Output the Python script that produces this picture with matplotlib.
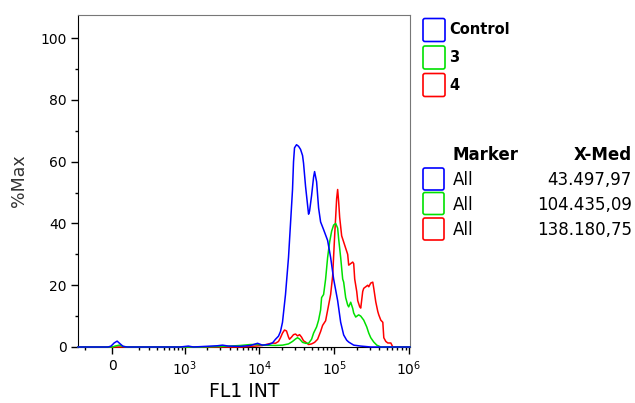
import matplotlib
matplotlib.use('Agg')
import matplotlib.pyplot as plt
from matplotlib.patches import FancyBboxPatch

plt.rcParams['font.family'] = ['DejaVu Sans']

# FL1 INT values, %Max per point
control_x = [-270, -27, -7, 13, 33, 54, 74, 103, 860, 1110, 1300, 2740, 3200, 3850, 5590, 7600, 9440,
             10970, 13200, 14940, 16390, 17980, 19120, 20340, 22310, 24480, 26040, 27700, 28570, 29460,
             31330, 33330, 35450, 37720, 38890, 41370, 44000, 45380, 46810, 49780, 52970, 54630, 58110,
             61800, 65730, 72110, 81600, 89520, 98200, 111100, 121900, 133700, 146700, 156100, 182100,
             226100, 307800, 1.03e6]
control_y = [0, 0, 0.3, 1.3, 1.9, 1.0, 0.2, 0, 0, 0.3, 0, 0.4, 0.6, 0.3, 0.2, 0.5, 1.2,
             0.6, 0.8, 1.3, 2.5, 3.5, 5, 8, 17, 29, 40, 51, 60, 64.5,
             65.5, 65, 64, 62, 59.5, 52, 46, 43, 44, 49, 55, 56.8, 53.5,
             45, 40.5, 38, 34.5, 29, 22, 15, 8, 3.9, 2.2, 1.6, 0.6,
             0.3, 0, 0]

s3_x = [-270, 0, 20, 47, 74, 103, 1620, 4100, 5590, 7600, 9440, 12030, 16390, 20340, 24480, 27700,
        30380, 32320, 34380, 37720, 41370, 45380, 49780, 52970, 58110, 61800, 65730, 67790, 72110,
        76710, 81600, 86800, 92330, 98200, 104500, 111100, 114600, 121900, 129700, 133700, 142200,
        151300, 156100, 166000, 176600, 182100, 193700, 206100, 212500, 226100, 248000, 272000,
        289400, 307800, 337700, 370500, 419300, 1.03e6]
s3_y = [0, 0, 0.3, 0.6, 0.2, 0, 0, 0.3, 0.5, 0.8, 0.8, 0.6, 0.5, 0.6, 1, 1.8,
        2.6, 3, 2.6, 1.5, 1.2, 1.2, 2.5, 4.5, 6.5, 8.7, 12, 16, 17,
        22, 29, 34, 37.5, 39.5, 40, 38.5, 35, 29, 22, 21, 16,
        13.6, 13, 14.5, 12.5, 11, 9.7, 10.2, 10.4, 10, 8.7, 6.5,
        4.5, 3, 1.6, 0.6, 0, 0]

s4_x = [-270, 5590, 8840, 10970, 13200, 14940, 16390, 17980, 19120, 20340, 21630, 23010, 24480,
        25250, 26850, 28570, 30380, 32320, 34380, 36560, 38890, 41370, 45380, 49780, 54630, 59930,
        65730, 69920, 76710, 84160, 89520, 95220, 101300, 104500, 107700, 111100, 114600, 118200,
        125700, 133700, 142200, 151300, 156100, 166000, 176600, 182100, 187800, 199800, 206100,
        219200, 226100, 240400, 248000, 263800, 280500, 289400, 307800, 327400, 337700, 359200,
        382100, 394100, 419300, 446000, 459900, 489200, 520300, 570900, 607100, 1.03e6]
s4_y = [0, 0, 0.3, 0.5, 1, 1.3, 1.2, 1.8, 3, 4.5, 5.5, 5.2, 3.2,
        2.5, 3.2, 4, 4.2, 3.6, 4, 3.2, 2, 1.6, 0.8, 1, 1.5, 2.5,
        5, 7, 8.5, 13.6, 17, 23, 36, 42, 48, 51, 47, 42,
        36, 34, 32, 30, 26.5, 27, 27.5, 27, 22, 18, 15,
        13, 12.6, 18, 19, 19.5, 20, 19.5, 20.7, 21, 19, 14.6,
        11.5, 10.4, 8.7, 8, 3, 1.8, 1.3, 1.3, 0, 0]

names = ['Control', '3', '4']
colors = ['#0000ff', '#00e000', '#ff0000']
medians = ['43.497,97', '104.435,09', '138.180,75']

fig = plt.figure(figsize=(6.35, 4.03), dpi=100)
ax = fig.add_axes([78 / 635, 1 - 347 / 403, (410 - 78) / 635, (347 - 15) / 403])
ax.set_xscale('asinh', linear_width=215)

# red, green, then blue on top
ax.plot(s4_x, s4_y, color=colors[2], lw=1.1, zorder=3, clip_on=False)
ax.plot(s3_x, s3_y, color=colors[1], lw=1.1, zorder=4, clip_on=False)
ax.plot(control_x, control_y, color=colors[0], lw=1.1, zorder=5, clip_on=False)

ax.set_xlim(-270, 1.03e6)
ax.set_ylim(0, 107.5)

ax.set_xticks([0, 1e3, 1e4, 1e5, 1e6])
ax.set_xticklabels(['0', r'$\mathregular{10^{3}}$', r'$\mathregular{10^{4}}$',
                    r'$\mathregular{10^{5}}$', r'$\mathregular{10^{6}}$'])
minor = [-200]
for dec in [1e2, 1e3, 1e4, 1e5]:
    minor += [m * dec for m in range(2, 10)]
ax.set_xticks(minor, minor=True)
ax.set_yticks([0, 20, 40, 60, 80, 100])
ax.set_yticks([10, 30, 50, 70, 90], minor=True)

ax.tick_params(axis='both', which='major', direction='out', length=5, width=1, labelsize=10, pad=3)
ax.tick_params(axis='both', which='minor', direction='out', length=2.5, width=1)
ax.tick_params(axis='x', which='major', pad=4)

for side in ['left', 'bottom']:
    ax.spines[side].set_color('black')
for side in ['top', 'right']:
    ax.spines[side].set_color('#777777')

ax.set_xlabel('FL1 INT', fontsize=13.5, labelpad=3)
ax.set_ylabel('%Max', fontsize=12.5, color='#333333', labelpad=9)

# legend panel (positions in inches from bottom-left)
def box(x0, ytop, w, h, c):
    p = FancyBboxPatch((x0 / 100, (403 - ytop - h) / 100), w / 100, h / 100,
                       boxstyle='round,pad=0,rounding_size=0.02',
                       transform=fig.dpi_scale_trans, fill=False, edgecolor=c, lw=1.2)
    fig.patches.append(p)

for i, (n, c) in enumerate(zip(names, colors)):
    yc = [30, 57.5, 85][i]
    box(423, yc - 11.5, 22, 23, c)
    fig.text(449 / 100, (403 - yc) / 100, n, transform=fig.dpi_scale_trans,
             fontsize=10.5, fontweight='bold', va='center', ha='left')

fig.text(453 / 100, (403 - 155) / 100, 'Marker', transform=fig.dpi_scale_trans,
         fontsize=12, fontweight='bold', va='center', ha='left')
fig.text(632 / 100, (403 - 155) / 100, 'X-Med', transform=fig.dpi_scale_trans,
         fontsize=12, fontweight='bold', va='center', ha='right')
for i, (c, m) in enumerate(zip(colors, medians)):
    yc = [179, 203.5, 229][i]
    box(423, yc - 11, 21, 22, c)
    fig.text(453 / 100, (403 - yc - 1) / 100, 'All', transform=fig.dpi_scale_trans,
             fontsize=12, va='center', ha='left')
    fig.text(632 / 100, (403 - yc - 1) / 100, m, transform=fig.dpi_scale_trans,
             fontsize=12, va='center', ha='right')

fig.savefig('out.png', dpi=100)
